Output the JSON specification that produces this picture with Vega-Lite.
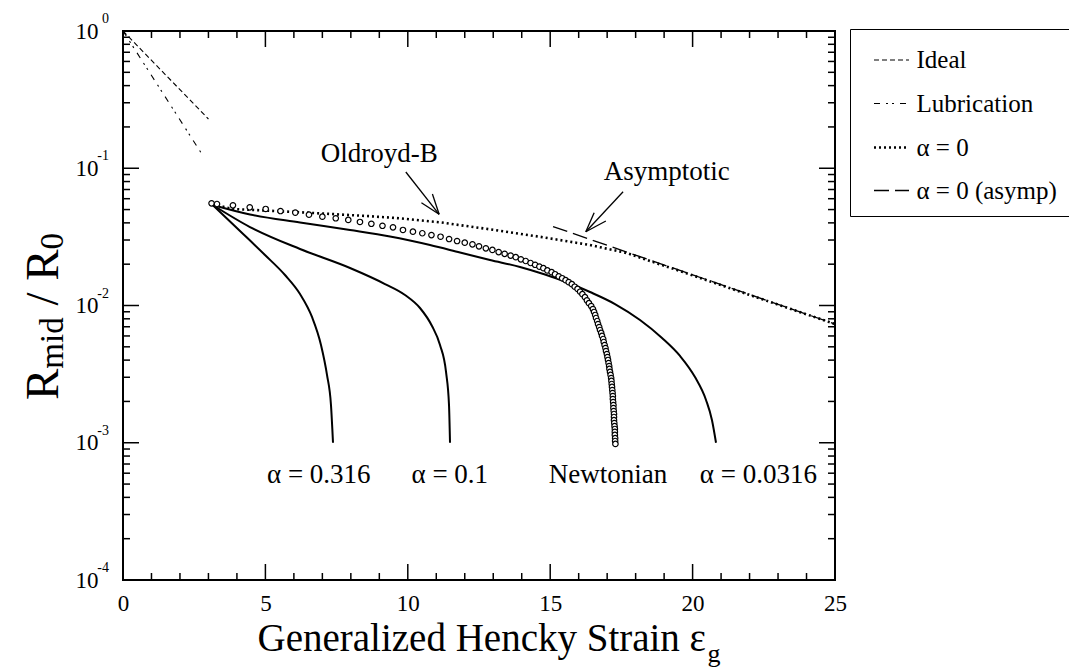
{
  "$schema": "https://vega.github.io/schema/vega-lite/v6.json",
  "width": 712,
  "height": 549,
  "autosize": {"type": "none"},
  "padding": {"left": 123, "top": 31, "right": 234, "bottom": 91},
  "background": "white",
  "config": {
    "view": {"stroke": "black", "strokeWidth": 2},
    "axis": {"grid": false, "labelFont": "Liberation Serif", "labelColor": "black", "labelFlush": false, "labelOverlap": false},
    "text": {"font": "Liberation Serif", "color": "black"},
    "tick": {"color": "black", "opacity": 1, "thickness": 1.5}
  },
  "datasets": {
    "dashed": [
      {"series": "Ideal", "eps": 0, "R": 1},
      {"series": "Ideal", "eps": 3.0, "R": 0.2285},
      {"series": "Lubrication", "eps": 0, "R": 1},
      {"series": "Lubrication", "eps": 2.79, "R": 0.125},
      {"series": "α = 0", "eps": 3.15, "R": 0.0545},
      {"series": "α = 0", "eps": 3.86, "R": 0.0505},
      {"series": "α = 0", "eps": 6.2, "R": 0.0478},
      {"series": "α = 0", "eps": 8.55, "R": 0.0449},
      {"series": "α = 0", "eps": 9.72, "R": 0.0432},
      {"series": "α = 0", "eps": 11.12, "R": 0.0404},
      {"series": "α = 0", "eps": 12.88, "R": 0.0359},
      {"series": "α = 0", "eps": 14.63, "R": 0.0317},
      {"series": "α = 0", "eps": 16.39, "R": 0.0276},
      {"series": "α = 0", "eps": 17.68, "R": 0.02415},
      {"series": "α = 0", "eps": 18.85, "R": 0.01995},
      {"series": "α = 0", "eps": 19.55, "R": 0.01786},
      {"series": "α = 0", "eps": 20.96, "R": 0.01416},
      {"series": "α = 0", "eps": 22.48, "R": 0.01104},
      {"series": "α = 0", "eps": 25, "R": 0.00733},
      {"series": "α = 0 (asymp)", "eps": 15.1, "R": 0.03758},
      {"series": "α = 0 (asymp)", "eps": 25, "R": 0.00733}
    ],
    "solid": [
      {"alpha": "0.316", "eps": 3.15, "R": 0.054},
      {"alpha": "0.316", "eps": 4.108, "R": 0.0349},
      {"alpha": "0.316", "eps": 4.986, "R": 0.02332},
      {"alpha": "0.316", "eps": 5.688, "R": 0.01668},
      {"alpha": "0.316", "eps": 6.215, "R": 0.01213},
      {"alpha": "0.316", "eps": 6.636, "R": 0.00825},
      {"alpha": "0.316", "eps": 6.952, "R": 0.00516},
      {"alpha": "0.316", "eps": 7.163, "R": 0.00312},
      {"alpha": "0.316", "eps": 7.303, "R": 0.00188},
      {"alpha": "0.316", "eps": 7.374, "R": 0.001},
      {"alpha": "0.1", "eps": 3.15, "R": 0.054},
      {"alpha": "0.1", "eps": 4.459, "R": 0.03731},
      {"alpha": "0.1", "eps": 6.215, "R": 0.0258},
      {"alpha": "0.1", "eps": 7.971, "R": 0.01876},
      {"alpha": "0.1", "eps": 9.199, "R": 0.01434},
      {"alpha": "0.1", "eps": 9.902, "R": 0.01193},
      {"alpha": "0.1", "eps": 10.428, "R": 0.00959},
      {"alpha": "0.1", "eps": 10.85, "R": 0.00709},
      {"alpha": "0.1", "eps": 11.131, "R": 0.00516},
      {"alpha": "0.1", "eps": 11.342, "R": 0.00328},
      {"alpha": "0.1", "eps": 11.447, "R": 0.00188},
      {"alpha": "0.1", "eps": 11.482, "R": 0.001},
      {"alpha": "0.0316", "eps": 3.15, "R": 0.054},
      {"alpha": "0.0316", "eps": 4.459, "R": 0.04603},
      {"alpha": "0.0316", "eps": 6.215, "R": 0.04024},
      {"alpha": "0.0316", "eps": 7.971, "R": 0.03548},
      {"alpha": "0.0316", "eps": 9.375, "R": 0.03182},
      {"alpha": "0.0316", "eps": 10.78, "R": 0.02759},
      {"alpha": "0.0316", "eps": 11.833, "R": 0.02433},
      {"alpha": "0.0316", "eps": 12.886, "R": 0.02146},
      {"alpha": "0.0316", "eps": 13.94, "R": 0.01908},
      {"alpha": "0.0316", "eps": 14.817, "R": 0.01682},
      {"alpha": "0.0316", "eps": 15.52, "R": 0.01496},
      {"alpha": "0.0316", "eps": 16.397, "R": 0.01254},
      {"alpha": "0.0316", "eps": 17.275, "R": 0.01025},
      {"alpha": "0.0316", "eps": 18.153, "R": 0.00784},
      {"alpha": "0.0316", "eps": 18.926, "R": 0.0058},
      {"alpha": "0.0316", "eps": 19.558, "R": 0.00429},
      {"alpha": "0.0316", "eps": 20.084, "R": 0.00301},
      {"alpha": "0.0316", "eps": 20.471, "R": 0.00205},
      {"alpha": "0.0316", "eps": 20.681, "R": 0.00146},
      {"alpha": "0.0316", "eps": 20.822, "R": 0.001}
    ],
    "newtonian": [
      {"eps": 3.11, "R": 0.0555}, {"eps": 3.30, "R": 0.0549}, {"eps": 3.86, "R": 0.0537},
      {"eps": 4.45, "R": 0.0519}, {"eps": 5.01, "R": 0.0505}, {"eps": 5.53, "R": 0.0488},
      {"eps": 6.05, "R": 0.0475}, {"eps": 6.53, "R": 0.0459}, {"eps": 7.00, "R": 0.0444},
      {"eps": 7.47, "R": 0.0432}, {"eps": 7.91, "R": 0.0420}, {"eps": 8.32, "R": 0.0406},
      {"eps": 8.72, "R": 0.0394}, {"eps": 9.11, "R": 0.0381}, {"eps": 9.48, "R": 0.0371},
      {"eps": 9.83, "R": 0.0355}, {"eps": 10.18, "R": 0.0345}, {"eps": 10.51, "R": 0.0336},
      {"eps": 10.83, "R": 0.0326}, {"eps": 11.15, "R": 0.0317}, {"eps": 11.45, "R": 0.0305},
      {"eps": 11.73, "R": 0.0295}, {"eps": 12.00, "R": 0.0287}, {"eps": 12.27, "R": 0.0279},
      {"eps": 12.50, "R": 0.0270}, {"eps": 12.74, "R": 0.0261}, {"eps": 12.97, "R": 0.0254},
      {"eps": 13.19, "R": 0.0245}, {"eps": 13.40, "R": 0.0238}, {"eps": 13.61, "R": 0.0231},
      {"eps": 13.79, "R": 0.0225}, {"eps": 13.97, "R": 0.0217}, {"eps": 14.14, "R": 0.0211},
      {"eps": 14.31, "R": 0.0204}, {"eps": 14.47, "R": 0.0198}, {"eps": 14.62, "R": 0.0192},
      {"eps": 14.76, "R": 0.0187}, {"eps": 14.90, "R": 0.0180}, {"eps": 15.05, "R": 0.0175},
      {"eps": 15.17, "R": 0.0169}, {"eps": 15.30, "R": 0.0163}, {"eps": 15.42, "R": 0.0158},
      {"eps": 15.54, "R": 0.0153}, {"eps": 15.65, "R": 0.0148}, {"eps": 15.76, "R": 0.0143},
      {"eps": 15.86, "R": 0.0137}, {"eps": 15.96, "R": 0.0132}, {"eps": 16.05, "R": 0.0126},
      {"eps": 16.13, "R": 0.0121}, {"eps": 16.22, "R": 0.0115}, {"eps": 16.29, "R": 0.0109},
      {"eps": 16.36, "R": 0.0104}, {"eps": 16.44, "R": 0.00991}, {"eps": 16.50, "R": 0.00942},
      {"eps": 16.54, "R": 0.00897}, {"eps": 16.58, "R": 0.00853}, {"eps": 16.61, "R": 0.00811},
      {"eps": 16.65, "R": 0.00771}, {"eps": 16.68, "R": 0.00733}, {"eps": 16.72, "R": 0.00697},
      {"eps": 16.75, "R": 0.00663}, {"eps": 16.79, "R": 0.00631}, {"eps": 16.82, "R": 0.00600},
      {"eps": 16.86, "R": 0.00570}, {"eps": 16.88, "R": 0.00542}, {"eps": 16.91, "R": 0.00515},
      {"eps": 16.94, "R": 0.00490}, {"eps": 16.96, "R": 0.00466}, {"eps": 16.99, "R": 0.00443},
      {"eps": 17.01, "R": 0.00421}, {"eps": 17.03, "R": 0.00401}, {"eps": 17.05, "R": 0.00381},
      {"eps": 17.07, "R": 0.00362}, {"eps": 17.08, "R": 0.00345}, {"eps": 17.10, "R": 0.00328},
      {"eps": 17.12, "R": 0.00312}, {"eps": 17.14, "R": 0.00296}, {"eps": 17.15, "R": 0.00282},
      {"eps": 17.16, "R": 0.00268}, {"eps": 17.17, "R": 0.00255}, {"eps": 17.18, "R": 0.00242},
      {"eps": 17.19, "R": 0.00230}, {"eps": 17.20, "R": 0.00219}, {"eps": 17.20, "R": 0.00208},
      {"eps": 17.21, "R": 0.00198}, {"eps": 17.22, "R": 0.00188}, {"eps": 17.22, "R": 0.00179},
      {"eps": 17.23, "R": 0.00170}, {"eps": 17.24, "R": 0.00162}, {"eps": 17.24, "R": 0.00154},
      {"eps": 17.24, "R": 0.00146}, {"eps": 17.25, "R": 0.00139}, {"eps": 17.26, "R": 0.00132},
      {"eps": 17.27, "R": 0.00126}, {"eps": 17.27, "R": 0.00120}, {"eps": 17.27, "R": 0.00114},
      {"eps": 17.28, "R": 0.00108}, {"eps": 17.28, "R": 0.00103}, {"eps": 17.29, "R": 0.00098}
    ],
    "arrows": [
      {"eps1": 9.93, "R1": 0.0939, "eps2": 11.1, "R2": 0.04618},
      {"eps1": 10.864, "R1": 0.06494, "eps2": 11.1, "R2": 0.04618},
      {"eps1": 10.478, "R1": 0.0561, "eps2": 11.1, "R2": 0.04618},
      {"eps1": 17.56, "R1": 0.06748, "eps2": 16.25, "R2": 0.03448},
      {"eps1": 16.543, "R1": 0.04743, "eps2": 16.25, "R2": 0.03448},
      {"eps1": 16.954, "R1": 0.04126, "eps2": 16.25, "R2": 0.03448}
    ],
    "notes": [
      {"label": "Oldroyd-B", "eps": 9.0, "R": 0.111},
      {"label": "Asymptotic", "eps": 19.09, "R": 0.0821},
      {"label": "α = 0.316", "eps": 6.875, "R": 0.000509},
      {"label": "α = 0.1", "eps": 11.475, "R": 0.000509},
      {"label": "Newtonian", "eps": 17.03, "R": 0.000509},
      {"label": "α = 0.0316", "eps": 22.31, "R": 0.000509}
    ],
    "exponents": [
      {"exp": "0", "R": 1},
      {"exp": "-1", "R": 0.1},
      {"exp": "-2", "R": 0.01},
      {"exp": "-3", "R": 0.001},
      {"exp": "-4", "R": 0.0001}
    ],
    "xMajor": [{"v": 5}, {"v": 10}, {"v": 15}, {"v": 20}],
    "xMinor": [{"v": 1}, {"v": 2}, {"v": 3}, {"v": 4}, {"v": 6}, {"v": 7}, {"v": 8}, {"v": 9}, {"v": 11}, {"v": 12}, {"v": 13}, {"v": 14}, {"v": 16}, {"v": 17}, {"v": 18}, {"v": 19}, {"v": 21}, {"v": 22}, {"v": 23}, {"v": 24}],
    "yMajor": [{"v": 0.001}, {"v": 0.01}, {"v": 0.1}],
    "yMinor": [{"v": 0.0002}, {"v": 0.0003}, {"v": 0.0004}, {"v": 0.0005}, {"v": 0.0006}, {"v": 0.0007}, {"v": 0.0008}, {"v": 0.0009},
               {"v": 0.002}, {"v": 0.003}, {"v": 0.004}, {"v": 0.005}, {"v": 0.006}, {"v": 0.007}, {"v": 0.008}, {"v": 0.009},
               {"v": 0.02}, {"v": 0.03}, {"v": 0.04}, {"v": 0.05}, {"v": 0.06}, {"v": 0.07}, {"v": 0.08}, {"v": 0.09},
               {"v": 0.2}, {"v": 0.3}, {"v": 0.4}, {"v": 0.5}, {"v": 0.6}, {"v": 0.7}, {"v": 0.8}, {"v": 0.9}]
  },
  "layer": [
    {
      "data": {"name": "xMajor"},
      "mark": {"type": "tick", "orient": "vertical", "size": 16, "yOffset": -8},
      "encoding": {
        "x": {"field": "v", "type": "quantitative", "scale": {"domain": [0, 25], "nice": false, "zero": false}, "axis": null},
        "y": {"datum": 0.0001, "type": "quantitative", "scale": {"type": "log", "domain": [0.0001, 1], "nice": false}, "axis": null}
      }
    },
    {
      "data": {"name": "xMinor"},
      "mark": {"type": "tick", "orient": "vertical", "size": 7, "yOffset": -3.5},
      "encoding": {
        "x": {"field": "v", "type": "quantitative", "scale": {"domain": [0, 25], "nice": false, "zero": false}, "axis": null},
        "y": {"datum": 0.0001, "type": "quantitative", "scale": {"type": "log", "domain": [0.0001, 1], "nice": false}, "axis": null}
      }
    },
    {
      "data": {"name": "xMajor"},
      "mark": {"type": "tick", "orient": "vertical", "size": 16, "yOffset": 8},
      "encoding": {
        "x": {"field": "v", "type": "quantitative", "scale": {"domain": [0, 25], "nice": false, "zero": false}, "axis": null},
        "y": {"datum": 1, "type": "quantitative", "scale": {"type": "log", "domain": [0.0001, 1], "nice": false}, "axis": null}
      }
    },
    {
      "data": {"name": "xMinor"},
      "mark": {"type": "tick", "orient": "vertical", "size": 7, "yOffset": 3.5},
      "encoding": {
        "x": {"field": "v", "type": "quantitative", "scale": {"domain": [0, 25], "nice": false, "zero": false}, "axis": null},
        "y": {"datum": 1, "type": "quantitative", "scale": {"type": "log", "domain": [0.0001, 1], "nice": false}, "axis": null}
      }
    },
    {
      "data": {"name": "yMajor"},
      "mark": {"type": "tick", "orient": "horizontal", "size": 16, "xOffset": 8},
      "encoding": {
        "x": {"datum": 0, "type": "quantitative", "scale": {"domain": [0, 25], "nice": false, "zero": false}, "axis": null},
        "y": {"field": "v", "type": "quantitative", "scale": {"type": "log", "domain": [0.0001, 1], "nice": false}, "axis": null}
      }
    },
    {
      "data": {"name": "yMinor"},
      "mark": {"type": "tick", "orient": "horizontal", "size": 7, "xOffset": 3.5},
      "encoding": {
        "x": {"datum": 0, "type": "quantitative", "scale": {"domain": [0, 25], "nice": false, "zero": false}, "axis": null},
        "y": {"field": "v", "type": "quantitative", "scale": {"type": "log", "domain": [0.0001, 1], "nice": false}, "axis": null}
      }
    },
    {
      "data": {"name": "yMajor"},
      "mark": {"type": "tick", "orient": "horizontal", "size": 16, "xOffset": -8},
      "encoding": {
        "x": {"datum": 25, "type": "quantitative", "scale": {"domain": [0, 25], "nice": false, "zero": false}, "axis": null},
        "y": {"field": "v", "type": "quantitative", "scale": {"type": "log", "domain": [0.0001, 1], "nice": false}, "axis": null}
      }
    },
    {
      "data": {"name": "yMinor"},
      "mark": {"type": "tick", "orient": "horizontal", "size": 7, "xOffset": -3.5},
      "encoding": {
        "x": {"datum": 25, "type": "quantitative", "scale": {"domain": [0, 25], "nice": false, "zero": false}, "axis": null},
        "y": {"field": "v", "type": "quantitative", "scale": {"type": "log", "domain": [0.0001, 1], "nice": false}, "axis": null}
      }
    },
    {
      "data": {"name": "dashed"},
      "mark": {"type": "line", "color": "black"},
      "encoding": {
        "x": {"field": "eps", "type": "quantitative", "scale": {"domain": [0, 25], "nice": false, "zero": false},
              "axis": {"orient": "bottom", "title": null, "domain": false, "values": [0, 5, 10, 15, 20, 25], "format": "d", "ticks": false, "labels": true, "labelFontSize": 23, "labelPadding": 12}},
        "y": {"field": "R", "type": "quantitative", "scale": {"type": "log", "domain": [0.0001, 1], "nice": false},
              "axis": {"orient": "left", "title": null, "domain": false, "values": [0.0001, 0.001, 0.01, 0.1, 1], "labelExpr": "'10'", "ticks": false, "labelFontSize": 23, "labelPadding": 25, "labelBaseline": "middle"}},
        "detail": {"field": "series"},
        "strokeDash": {"field": "series", "type": "nominal",
          "scale": {"domain": ["Ideal", "Lubrication", "α = 0", "α = 0 (asymp)"], "range": [[5, 3], [6, 6, 2, 4, 2, 6], [2, 3], [15, 6]]},
          "legend": {"title": null, "orient": "none", "legendX": 727, "legendY": -2, "symbolType": "stroke", "symbolSize": 1225, "symbolStrokeColor": "black", "labelFont": "Liberation Serif", "labelFontSize": 25, "labelColor": "black", "padding": 12.5, "rowPadding": 11.5, "labelOffset": 6, "symbolOffset": 10, "strokeColor": "black", "fillColor": "white", "labelLimit": 400}},
        "strokeWidth": {"field": "series", "type": "nominal",
          "scale": {"type": "ordinal", "domain": ["Ideal", "Lubrication", "α = 0", "α = 0 (asymp)"], "range": [1.1, 1.1, 2.6, 1.3]},
          "legend": {"title": null, "orient": "none", "legendX": 727, "legendY": -2, "symbolType": "stroke", "symbolSize": 1225, "symbolStrokeColor": "black", "labelFont": "Liberation Serif", "labelFontSize": 25, "labelColor": "black", "padding": 12.5, "rowPadding": 11.5, "labelOffset": 6, "symbolOffset": 10, "strokeColor": "black", "fillColor": "white", "labelLimit": 400}}
      }
    },
    {
      "data": {"name": "solid"},
      "mark": {"type": "line", "color": "black", "strokeWidth": 2, "interpolate": "monotone"},
      "encoding": {
        "x": {"field": "eps", "type": "quantitative", "scale": {"domain": [0, 25], "nice": false, "zero": false}, "axis": null},
        "y": {"field": "R", "type": "quantitative", "scale": {"type": "log", "domain": [0.0001, 1], "nice": false}, "axis": null},
        "detail": {"field": "alpha"}
      }
    },
    {
      "data": {"name": "newtonian"},
      "mark": {"type": "point", "shape": "circle", "size": 30, "fill": "white", "stroke": "black", "strokeWidth": 1.2, "opacity": 1},
      "encoding": {
        "x": {"field": "eps", "type": "quantitative", "scale": {"domain": [0, 25], "nice": false, "zero": false}, "axis": null},
        "y": {"field": "R", "type": "quantitative", "scale": {"type": "log", "domain": [0.0001, 1], "nice": false}, "axis": null}
      }
    },
    {
      "data": {"name": "arrows"},
      "mark": {"type": "rule", "color": "black", "strokeWidth": 1.3},
      "encoding": {
        "x": {"field": "eps1", "type": "quantitative", "scale": {"domain": [0, 25], "nice": false, "zero": false}, "axis": null},
        "y": {"field": "R1", "type": "quantitative", "scale": {"type": "log", "domain": [0.0001, 1], "nice": false}, "axis": null},
        "x2": {"field": "eps2"},
        "y2": {"field": "R2"}
      }
    },
    {
      "data": {"name": "notes"},
      "mark": {"type": "text", "fontSize": 27, "align": "center", "baseline": "alphabetic"},
      "encoding": {
        "x": {"field": "eps", "type": "quantitative", "scale": {"domain": [0, 25], "nice": false, "zero": false}, "axis": null},
        "y": {"field": "R", "type": "quantitative", "scale": {"type": "log", "domain": [0.0001, 1], "nice": false}, "axis": null},
        "text": {"field": "label"}
      }
    },
    {
      "data": {"name": "exponents"},
      "mark": {"type": "text", "fontSize": 14, "align": "right", "baseline": "alphabetic", "dy": -8},
      "encoding": {
        "x": {"datum": -0.49, "type": "quantitative", "scale": {"domain": [0, 25], "nice": false, "zero": false}, "axis": null},
        "y": {"field": "R", "type": "quantitative", "scale": {"type": "log", "domain": [0.0001, 1], "nice": false}, "axis": null},
        "text": {"field": "exp"}
      }
    },
    {
      "data": {"values": [{"t": "Generalized Hencky Strain ε", "eps": 20.47, "R": 0.00003039}]},
      "mark": {"type": "text", "fontSize": 39, "align": "right", "baseline": "alphabetic"},
      "encoding": {
        "x": {"field": "eps", "type": "quantitative", "scale": {"domain": [0, 25], "nice": false, "zero": false}, "axis": null},
        "y": {"field": "R", "type": "quantitative", "scale": {"type": "log", "domain": [0.0001, 1], "nice": false}, "axis": null},
        "text": {"field": "t"}
      }
    },
    {
      "data": {"values": [{"t": "g", "eps": 20.52, "R": 0.00002527}]},
      "mark": {"type": "text", "fontSize": 26, "align": "left", "baseline": "alphabetic"},
      "encoding": {
        "x": {"field": "eps", "type": "quantitative", "scale": {"domain": [0, 25], "nice": false, "zero": false}, "axis": null},
        "y": {"field": "R", "type": "quantitative", "scale": {"type": "log", "domain": [0.0001, 1], "nice": false}, "axis": null},
        "text": {"field": "t"}
      }
    },
    {
      "data": {"values": [
        {"t": "R", "eps": -2.28, "R": 0.002049},
        {"t": "/", "eps": -2.28, "R": 0.009984},
        {"t": "R", "eps": -2.28, "R": 0.01514}
      ]},
      "mark": {"type": "text", "fontSize": 47, "align": "left", "baseline": "alphabetic", "angle": 270},
      "encoding": {
        "x": {"field": "eps", "type": "quantitative", "scale": {"domain": [0, 25], "nice": false, "zero": false}, "axis": null},
        "y": {"field": "R", "type": "quantitative", "scale": {"type": "log", "domain": [0.0001, 1], "nice": false}, "axis": null},
        "text": {"field": "t"}
      }
    },
    {
      "data": {"values": [
        {"t": "mid", "eps": -2.11, "R": 0.003463},
        {"t": "0", "eps": -2.11, "R": 0.02559}
      ]},
      "mark": {"type": "text", "fontSize": 33, "align": "left", "baseline": "alphabetic", "angle": 270},
      "encoding": {
        "x": {"field": "eps", "type": "quantitative", "scale": {"domain": [0, 25], "nice": false, "zero": false}, "axis": null},
        "y": {"field": "R", "type": "quantitative", "scale": {"type": "log", "domain": [0.0001, 1], "nice": false}, "axis": null},
        "text": {"field": "t"}
      }
    }
  ],
  "resolve": {"scale": {"x": "independent", "y": "independent"}, "axis": {"x": "independent", "y": "independent"}}
}
